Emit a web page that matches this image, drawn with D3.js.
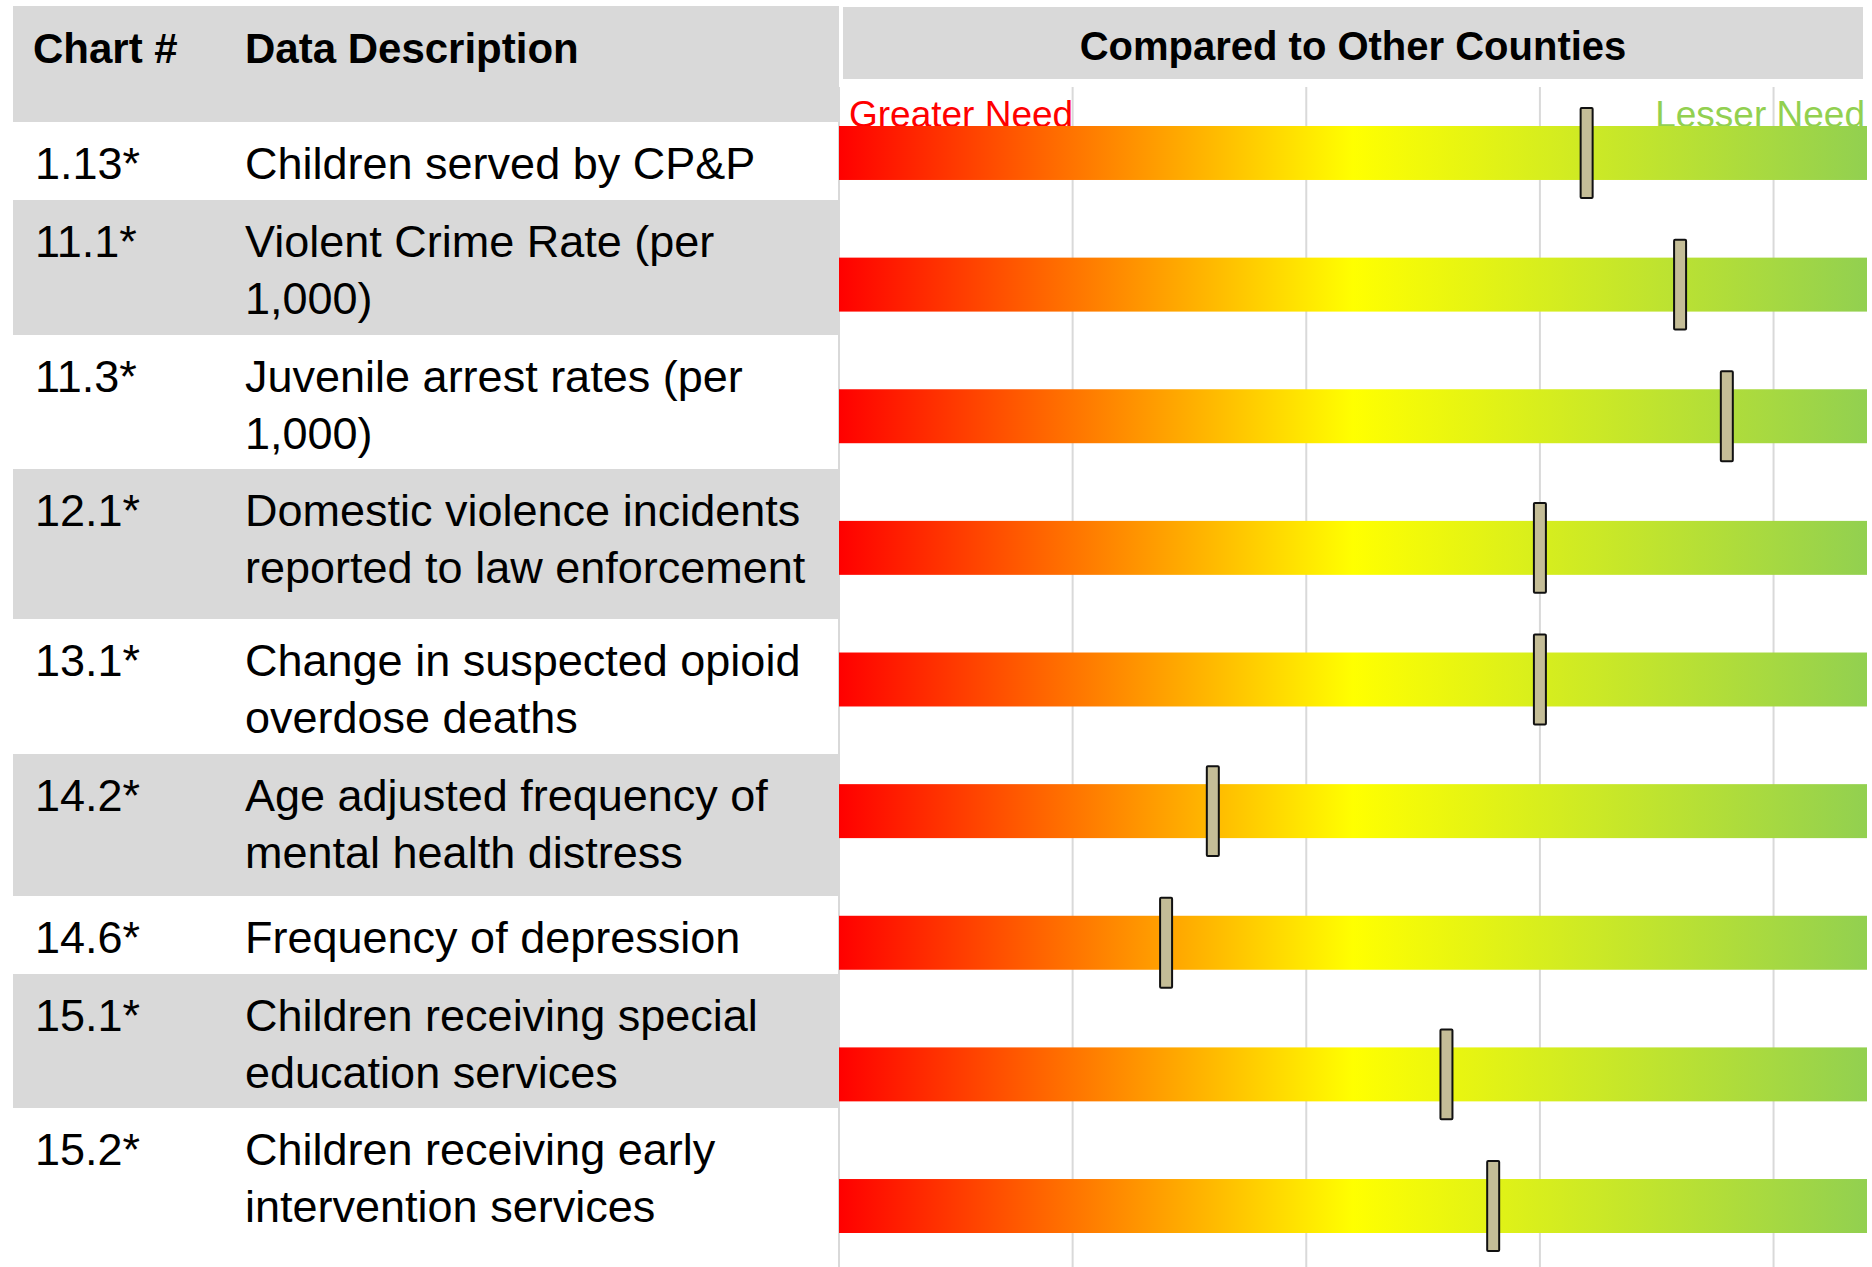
<!DOCTYPE html>
<html lang="en">
<head>
    <meta charset="UTF-8">
    <title>Compared to Other Counties</title>
    <script src="https://cdn.jsdelivr.net/npm/d3@7"></script>
    <style>
        body {
            margin: 0;
            background: #fff;
        }
        svg text {
            font-family: "Liberation Sans", Arial, sans-serif;
        }
    </style>
</head>
<body>
    <div id="chart"></div>

    <script>
        // data
        const chartIds = ["1.13*", "11.1*", "11.3*", "12.1*", "13.1*", "14.2*", "14.6*", "15.1*", "15.2*"];
        const descriptions = [
            ["Children served by CP&P"],
            ["Violent Crime Rate (per", "1,000)"],
            ["Juvenile arrest rates (per", "1,000)"],
            ["Domestic violence incidents", "reported to law enforcement"],
            ["Change in suspected opioid", "overdose deaths"],
            ["Age adjusted frequency of", "mental health distress"],
            ["Frequency of depression"],
            ["Children receiving special", "education services"],
            ["Children receiving early", "intervention services"]
        ];
        const scores = [0.8, 0.9, 0.95, 0.75, 0.75, 0.4, 0.35, 0.65, 0.7];
        const gridTicks = [0, 0.25, 0.5, 0.75, 1.0];
        const scaleMax = 1.1;

        // layout
        const width = 1872, height = 1267;
        const rowTops = [122, 200, 335, 469, 619, 754, 896, 974, 1108, 1267];
        const tableLeft = 13, tableRight = 839;
        const lineGap = 57;

        const svg = d3.select("#chart").append("svg")
            .attr("width", width)
            .attr("height", height);

        const x = d3.scaleLinear().domain([0, scaleMax]).range([839, 1867]);
        const y = d3.scaleBand().domain(chartIds).range([126, 1233]).paddingInner(0.59);

        // gridlines
        svg.append("g")
            .selectAll("line")
            .data(gridTicks)
            .join("line")
            .attr("x1", d => x(d))
            .attr("x2", d => x(d))
            .attr("y1", 87)
            .attr("y2", height)
            .attr("stroke", "#d9d9d9")
            .attr("stroke-width", 2);

        // table header
        svg.append("rect")
            .attr("x", tableLeft).attr("y", 6)
            .attr("width", tableRight - tableLeft).attr("height", rowTops[0] - 6)
            .attr("fill", "#d9d9d9");

        svg.append("text").attr("x", 33).attr("y", 63)
            .style("font-size", "42px").style("font-weight", "bold")
            .text("Chart #");
        svg.append("text").attr("x", 245).attr("y", 63)
            .style("font-size", "42px").style("font-weight", "bold")
            .text("Data Description");

        svg.append("rect")
            .attr("x", 843).attr("y", 7)
            .attr("width", 1020).attr("height", 72)
            .attr("fill", "#d9d9d9");
        svg.append("text").attr("x", 1353).attr("y", 60)
            .style("font-size", "40px").style("font-weight", "bold")
            .style("text-anchor", "middle")
            .text("Compared to Other Counties");

        // table rows
        const rows = svg.append("g")
            .selectAll("g")
            .data(chartIds.map((id, i) => ({ id, lines: descriptions[i], i })))
            .join("g");

        rows.append("rect")
            .attr("x", tableLeft)
            .attr("y", d => rowTops[d.i])
            .attr("width", tableRight - tableLeft)
            .attr("height", d => rowTops[d.i + 1] - rowTops[d.i])
            .attr("fill", d => d.i % 2 ? "#d9d9d9" : "none");

        rows.append("text")
            .attr("x", 35)
            .attr("y", d => rowTops[d.i] + 57)
            .style("font-size", "45px")
            .text(d => d.id);

        rows.append("text")
            .attr("y", d => rowTops[d.i] + 57)
            .style("font-size", "45px")
            .selectAll("tspan")
            .data(d => d.lines)
            .join("tspan")
            .attr("x", 245)
            .attr("dy", (d, j) => j ? lineGap : 0)
            .text(d => d);

        // end labels
        svg.append("text").attr("x", 849).attr("y", 127)
            .style("font-size", "37px").attr("fill", "#ff0000")
            .text("Greater Need");
        svg.append("text").attr("x", 1865).attr("y", 127)
            .style("font-size", "37px").attr("fill", "#92d050")
            .style("text-anchor", "end")
            .text("Lesser Need");

        // gradient bars
        const grad = svg.append("defs").append("linearGradient")
            .attr("id", "needGrad")
            .attr("gradientUnits", "userSpaceOnUse")
            .attr("x1", x(0)).attr("x2", x(scaleMax))
            .attr("y1", 0).attr("y2", 0);
        grad.append("stop").attr("offset", 0).attr("stop-color", "#ff0000");
        grad.append("stop").attr("offset", 0.5).attr("stop-color", "#ffff00");
        grad.append("stop").attr("offset", 1).attr("stop-color", "#92d050");

        svg.append("g")
            .selectAll("rect")
            .data(chartIds)
            .join("rect")
            .attr("x", x(0))
            .attr("y", d => y(d))
            .attr("width", x(scaleMax) - x(0))
            .attr("height", y.bandwidth())
            .attr("fill", "url(#needGrad)");

        // markers
        svg.append("g")
            .selectAll("rect")
            .data(chartIds.map((id, i) => ({ id, v: scores[i] })))
            .join("rect")
            .attr("x", d => x(d.v) - 6)
            .attr("y", d => y(d.id) - 18)
            .attr("width", 12)
            .attr("height", y.bandwidth() + 36)
            .attr("rx", 1)
            .attr("fill", "#c4bd97")
            .attr("stroke", "#111")
            .attr("stroke-width", 2);
    </script>
</body>
</html>
